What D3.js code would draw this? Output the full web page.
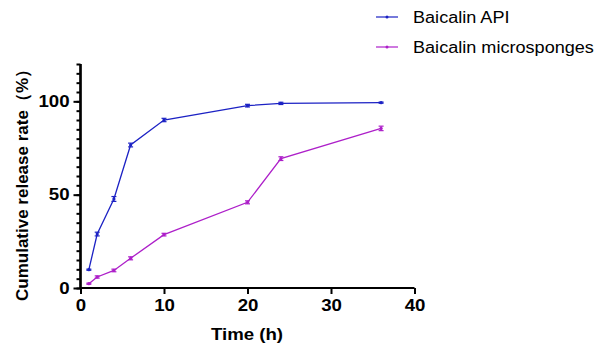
<!DOCTYPE html>
<html><head><meta charset="utf-8">
<script src="https://cdn.jsdelivr.net/npm/d3@7"></script>
<style>body{margin:0;background:#fff}svg{display:block}</style>
</head><body>
<svg id="c" width="600" height="352"></svg>
<script>
const times = [1, 2, 4, 6, 10, 20, 24, 36];
const apiValues = [9.8, 28.9, 47.7, 76.6, 90.0, 97.7, 98.9, 99.3];
const apiErrors = [0.3, 1.0, 1.3, 1.0, 0.9, 0.7, 0.6, 0.3];
const spongeValues = [2.3, 5.9, 9.4, 15.9, 28.6, 45.9, 69.3, 85.5];
const spongeErrors = [0.3, 0.6, 0.7, 0.8, 0.7, 0.8, 1.0, 1.2];
const seriesNames = ["Baicalin API", "Baicalin microsponges"];
const xTicks = [0, 10, 20, 30, 40];
const yTicks = [0, 50, 100];
const yMinorTicks = d3.range(0, 121, 5);

const colors = ["#1c22c4", "#ad1fc9"];
const svg = d3.select("#c");
const x = d3.scaleLinear().domain([0, 40]).range([80.5, 414.5]);
const y = d3.scaleLinear().domain([0, 120]).range([288, 64]);
const font = "'Liberation Sans', Arial, sans-serif";
const stretch = 1.13;
function widen(sel) {
  sel.each(function() {
    const w = this.getComputedTextLength();
    d3.select(this).attr("textLength", w * stretch).attr("lengthAdjust", "spacingAndGlyphs");
  });
}

// axes
const xAxis = svg.append("g").attr("transform", "translate(0,288)")
  .call(d3.axisBottom(x).tickValues(xTicks).tickSize(6).tickPadding(5).tickFormat(d3.format("d")));
const yMinor = svg.append("g").attr("transform", "translate(80.5,0)")
  .call(d3.axisLeft(y).tickValues(yMinorTicks).tickSize(4).tickFormat(""));
const yAxis = svg.append("g").attr("transform", "translate(80.5,0)")
  .call(d3.axisLeft(y).tickValues(yTicks).tickSize(7).tickPadding(4).tickFormat(d3.format("d")));
[xAxis, yAxis, yMinor].forEach(g => {
  g.select(".domain").attr("stroke", "#000").attr("stroke-width", 2.2);
  g.selectAll(".tick line").attr("stroke", "#000").attr("stroke-width", 2);
  g.selectAll(".tick text").attr("fill", "#000").style("font-family", font)
    .style("font-size", "16.5px").style("font-weight", "bold").call(widen);
});
xAxis.select(".domain").attr("d", "M80.5,0H414.5");
yMinor.select(".domain").attr("d", "M0,64V288");
yAxis.select(".domain").attr("d", "M0,64V288");

// series
const data = [
  times.map((t, i) => ({t, v: apiValues[i], e: apiErrors[i]})),
  times.map((t, i) => ({t, v: spongeValues[i], e: spongeErrors[i]}))
];
const line = d3.line().x(d => x(d.t)).y(d => y(d.v));
data.forEach((s, k) => {
  const g = svg.append("g");
  g.append("path").datum(s).attr("d", line).attr("fill", "none")
    .attr("stroke", colors[k]).attr("stroke-width", 1.3);
  const eb = g.selectAll(".eb").data(s).join("g");
  eb.append("line").attr("x1", d => x(d.t)).attr("x2", d => x(d.t))
    .attr("y1", d => y(d.v + d.e)).attr("y2", d => y(d.v - d.e))
    .attr("stroke", colors[k]).attr("stroke-width", 1.2);
  eb.append("line").attr("x1", d => x(d.t) - 2.5).attr("x2", d => x(d.t) + 2.5)
    .attr("y1", d => y(d.v + d.e)).attr("y2", d => y(d.v + d.e))
    .attr("stroke", colors[k]).attr("stroke-width", 1.2);
  eb.append("line").attr("x1", d => x(d.t) - 2.5).attr("x2", d => x(d.t) + 2.5)
    .attr("y1", d => y(d.v - d.e)).attr("y2", d => y(d.v - d.e))
    .attr("stroke", colors[k]).attr("stroke-width", 1.2);
  eb.append("circle").attr("cx", d => x(d.t)).attr("cy", d => y(d.v)).attr("r", 1.6)
    .attr("fill", colors[k]);

  // legend
  const ly = 17 + k * 30;
  svg.append("line").attr("x1", 376).attr("x2", 398).attr("y1", ly).attr("y2", ly)
    .attr("stroke", colors[k]).attr("stroke-width", 1.2);
  svg.append("circle").attr("cx", 387).attr("cy", ly).attr("r", 1.5).attr("fill", colors[k]);
  svg.append("text").attr("x", 413).attr("y", ly + 6).text(seriesNames[k])
    .style("font-family", font).style("font-size", "16px").attr("fill", "#000").call(widen);
});

// axis titles
svg.append("text").attr("x", 247).attr("y", 340).attr("text-anchor", "middle")
  .text("Time (h)").style("font-family", font).style("font-size", "16.5px").style("font-weight", "bold").call(widen);
svg.append("text").attr("transform", "translate(28,181) rotate(-90)").attr("text-anchor", "middle")
  .text("Cumulative release rate（%）").style("font-family", font).style("font-size", "17px").style("font-weight", "bold");
</script>
</body></html>
